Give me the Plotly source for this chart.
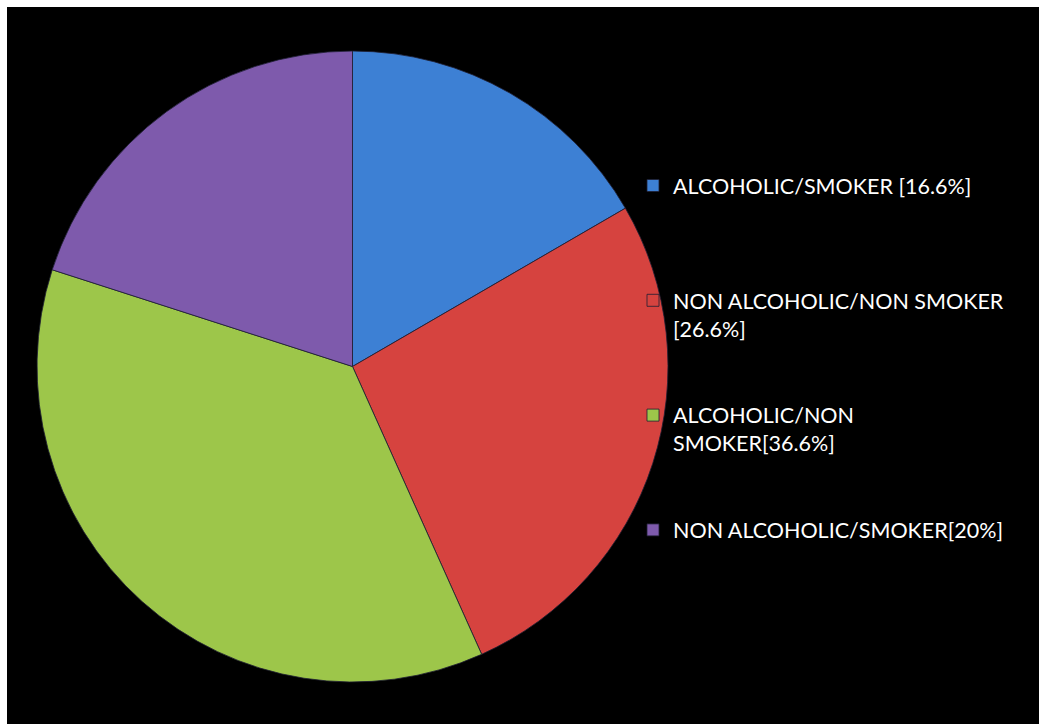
import plotly.graph_objects as go

categories = [
    "ALCOHOLIC/SMOKER [16.6%]",
    "NON ALCOHOLIC/NON SMOKER<br>[26.6%]",
    "ALCOHOLIC/NON<br>SMOKER[36.6%]",
    "NON ALCOHOLIC/SMOKER[20%]",
]
values = [16.6, 26.6, 36.6, 20.0]
colors = ["#3D80D4", "#D6433F", "#9DC64A", "#7E5AAC"]

# pad each legend entry to 4 text lines so items are evenly spaced
def pad(label, lines=4):
    n = label.count("<br>") + 1
    return label + "<br> " * (lines - n)

fig = go.Figure(go.Pie(
    labels=[pad(c) for c in categories],
    values=values,
    sort=False,
    direction="clockwise",
    rotation=0,
    textinfo="none",
    hoverinfo="label+percent",
    marker=dict(colors=colors, line=dict(color="rgba(30,30,50,0.8)", width=1)),
    domain=dict(x=[0.0291, 0.6405], y=[0.0572, 0.9400]),
))

fig.update_layout(
    width=1039, height=724,
    margin=dict(l=7, t=7, r=0, b=0),
    paper_bgcolor="white",
    shapes=[dict(type="rect", xref="paper", yref="paper", x0=0, x1=1, y0=0, y1=1,
                 fillcolor="black", line=dict(width=0), layer="below")],
    legend=dict(
        x=0.6066, xanchor="left", y=0.7796, yanchor="top",
        font=dict(family="Lato, Open Sans, sans-serif", size=21.5, color="white"),
        bgcolor="rgba(0,0,0,0)", valign="top",
    ),
    showlegend=True,
)

fig.write_html(
    "out.html",
    config={"displayModeBar": False},
    post_script=(
        "document.body.style.margin='0';"
        "document.body.style.overflow='hidden';"
        "document.documentElement.style.overflow='hidden';"
        "document.body.style.background='black';"
        "document.documentElement.style.background='black';"
    ),
)
